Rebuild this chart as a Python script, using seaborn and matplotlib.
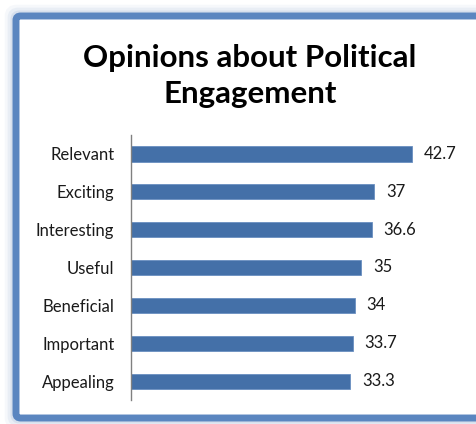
import matplotlib
matplotlib.use("Agg")
import matplotlib.pyplot as plt
import seaborn as sns
import pandas as pd
from matplotlib.patches import FancyBboxPatch

categories = ["Relevant", "Exciting", "Interesting", "Useful", "Beneficial", "Important", "Appealing"]
values = [42.7, 37, 36.6, 35, 34, 33.7, 33.3]
value_labels = ["42.7", "37", "36.6", "35", "34", "33.7", "33.3"]
title = "Opinions about Political\nEngagement"

sns.set_theme(style="white")
plt.rcParams["font.family"] = ["Lato", "DejaVu Sans"]

W, H = 477, 424
fig = plt.figure(figsize=(W / 100, H / 100), dpi=100)
fig.patch.set_facecolor("white")

# soft glow and blue frame around the chart area
for pad, lw, alpha in [(5, 9, 0.08), (3.5, 7, 0.12), (2, 5, 0.2)]:
    glow = FancyBboxPatch((16 / W - pad / W, 6 / H - pad / H), (W + 40) / W, (H - 22) / H + 2 * pad / H,
                          boxstyle="round,pad=0,rounding_size=0.012", transform=fig.transFigure,
                          facecolor="none", edgecolor="#8fa9cf", linewidth=lw, alpha=alpha, zorder=0)
    fig.patches.append(glow)
frame = FancyBboxPatch((16 / W, 6 / H), (W + 40) / W, (H - 22) / H,
                       boxstyle="round,pad=0,rounding_size=0.01", transform=fig.transFigure,
                       facecolor="white", edgecolor="#5b86c0", linewidth=5, zorder=0.5)
fig.patches.append(frame)

ax = fig.add_axes([131 / W, 24 / H, 329 / W, 265 / H])
ax.set_zorder(2)
ax.set_facecolor("none")
df = pd.DataFrame({"category": categories, "value": values})
sns.barplot(data=df, x="value", y="category", orient="h", color="#4470a8",
            width=0.4, saturation=1, edgecolor="#6a8fc0", linewidth=0.6, ax=ax)

for i, (v, lab) in enumerate(zip(values, value_labels)):
    ax.text(v + 1.8, i, lab, va="center", ha="left", fontsize=12, color="#1a1a1a")

ax.set_xlim(0, 50)
ax.set_ylim(6.5, -0.5)
ax.set_xlabel("")
ax.set_ylabel("")
ax.set_xticks([])
for s in ["top", "right", "bottom"]:
    ax.spines[s].set_visible(False)
ax.spines["left"].set_color("#808080")
ax.spines["left"].set_linewidth(1)
ax.tick_params(axis="y", length=0, pad=12, labelsize=12, labelcolor="#1a1a1a")

fig.text(250 / W, 1 - 76 / H, title, ha="center", va="center", fontsize=22.5,
         fontweight="bold", color="black", linespacing=1.35, zorder=3)

fig.savefig("out.png", dpi=100, facecolor="white")
